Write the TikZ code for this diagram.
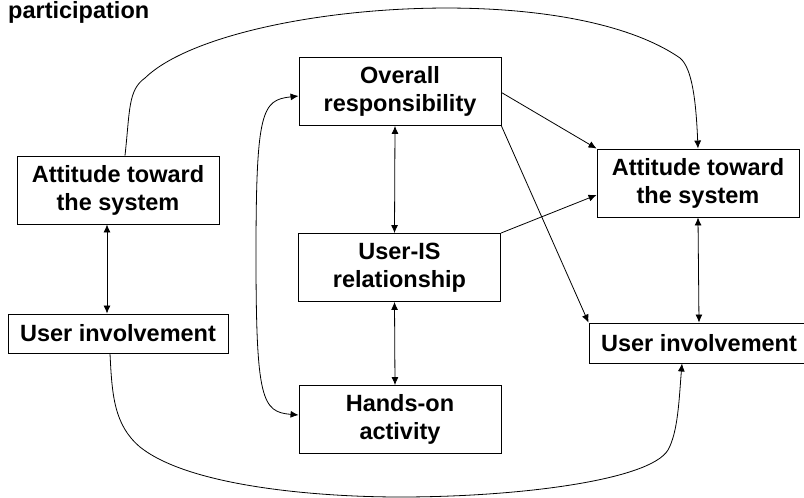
\documentclass[tikz,border=0pt]{standalone}
\usepackage{fontspec}
\setmainfont{Liberation Sans}
\usetikzlibrary{arrows.meta}

\begin{document}
\begin{tikzpicture}[x=1pt, y=-1pt,
  box/.style={draw, line width=0.9pt, align=center, inner sep=0pt,
    minimum width=202pt, minimum height=68pt,
    font=\fontsize{23.5}{28}\selectfont\bfseries},
  flatbox/.style={box, minimum width=220pt, minimum height=39pt},
  oneway/.style={line width=0.8pt, -{Latex[length=8pt,width=7pt]}},
  twoway/.style={line width=0.8pt, {Latex[length=8pt,width=7pt]}-{Latex[length=8pt,width=7pt]}}]
\useasboundingbox (0,0) rectangle (804,498);

\node[anchor=base west, inner sep=0pt, font=\fontsize{23.5}{28}\selectfont\bfseries] (title) at (8,18) {participation};

\node[box] (attL) at (118,190) {Attitude toward\\the system};
\node[flatbox] (invL) at (118,333.5) {User involvement};

\node[box] (resp) at (400,91.5) {Overall\\responsibility};
\node[box] (rel) at (399.5,267.5) {User-IS\\relationship};
\node[box] (hands) at (400,419.5) {Hands-on\\activity};

\node[box] (attR) at (698,183) {Attitude toward\\the system};
\node[flatbox, minimum height=40pt] (invR) at (699,343) {User involvement};

\draw[twoway] ([xshift=-11pt]attL.south) -- ([xshift=-11pt]invL.north);
\draw[twoway] ([xshift=-5pt]resp.south) -- ([xshift=-5pt]rel.north);
\draw[twoway] ([xshift=-5pt]rel.south) -- ([xshift=-5pt]hands.north);
\draw[twoway] (attR.south) -- (invR.north);

\draw[oneway] ([yshift=-1pt]resp.east) -- (attR.north west);
\draw[oneway] (resp.south east) -- (invR.north west);
\draw[oneway] (rel.north east) -- ([yshift=-12pt]attR.west);

\draw[twoway] ([yshift=-4.5pt]resp.west) .. controls (262,100) and (256,110) .. (256,255)
  .. controls (256,400) and (262,412) .. ([yshift=4.5pt]hands.west);

\draw[oneway] ([xshift=7pt]attL.north) .. controls (130,110) and (128,90) .. (145,78)
  .. controls (220,5) and (560,-25) .. (680,58)
  .. controls (692,68) and (696,100) .. (attR.north);

\draw[oneway] ([xshift=-8pt]invL.south) .. controls (112,395) and (114,425) .. (140,447)
  .. controls (190,487) and (320,497) .. (400,497)
  .. controls (520,497) and (650,480) .. (668,450)
  .. controls (678,432) and (679,400) .. ([xshift=-17pt]invR.south);
\end{tikzpicture}
\end{document}
